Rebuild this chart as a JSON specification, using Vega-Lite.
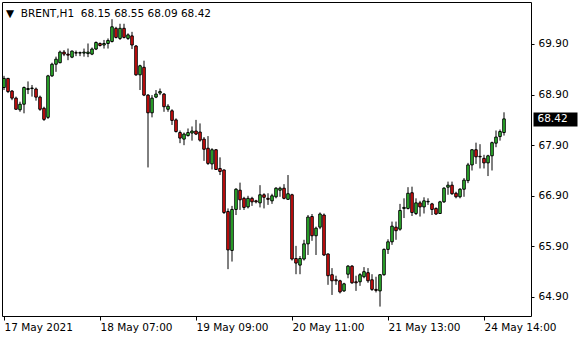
{
  "$schema": "https://vega.github.io/schema/vega-lite/v6.json",
  "autosize": "none",
  "width": 529,
  "height": 314,
  "padding": {"left": 2, "top": 2, "right": 49, "bottom": 24},
  "background": "white",
  "config": {
    "view": {"stroke": "black", "strokeWidth": 1},
    "font": "DejaVu Sans"
  },
  "title": {
    "text": "▼\u00a0 BRENT,H1\u00a0 68.15 68.55 68.09 68.42",
    "anchor": "start",
    "frame": "group",
    "orient": "top",
    "baseline": "top",
    "offset": -17,
    "dx": 4,
    "font": "DejaVu Sans",
    "fontSize": 10.5,
    "fontWeight": "normal",
    "color": "#000000"
  },
  "data": {
    "values": [
      {"i":0,"o":69.04,"h":69.27,"l":68.99,"c":69.22},
      {"i":1,"o":69.22,"h":69.23,"l":68.93,"c":68.96},
      {"i":2,"o":68.97,"h":68.99,"l":68.79,"c":68.83},
      {"i":3,"o":68.83,"h":68.86,"l":68.60,"c":68.61},
      {"i":4,"o":68.60,"h":68.76,"l":68.56,"c":68.71},
      {"i":5,"o":68.71,"h":69.06,"l":68.53,"c":69.04},
      {"i":6,"o":69.00,"h":69.16,"l":68.91,"c":69.02},
      {"i":7,"o":69.02,"h":69.09,"l":68.86,"c":69.03},
      {"i":8,"o":69.01,"h":69.04,"l":68.78,"c":68.85},
      {"i":9,"o":68.85,"h":68.88,"l":68.58,"c":68.61},
      {"i":10,"o":68.63,"h":68.66,"l":68.38,"c":68.41},
      {"i":11,"o":68.45,"h":69.29,"l":68.42,"c":69.27},
      {"i":12,"o":69.27,"h":69.53,"l":69.25,"c":69.50},
      {"i":13,"o":69.50,"h":69.65,"l":69.35,"c":69.60},
      {"i":14,"o":69.53,"h":69.77,"l":69.52,"c":69.74},
      {"i":15,"o":69.74,"h":69.78,"l":69.66,"c":69.70},
      {"i":16,"o":69.70,"h":69.81,"l":69.58,"c":69.68},
      {"i":17,"o":69.64,"h":69.77,"l":69.62,"c":69.76},
      {"i":18,"o":69.73,"h":69.77,"l":69.66,"c":69.72},
      {"i":19,"o":69.72,"h":69.75,"l":69.66,"c":69.73},
      {"i":20,"o":69.72,"h":69.81,"l":69.65,"c":69.74},
      {"i":21,"o":69.71,"h":69.91,"l":69.64,"c":69.74},
      {"i":22,"o":69.70,"h":69.83,"l":69.68,"c":69.80},
      {"i":23,"o":69.80,"h":69.95,"l":69.78,"c":69.93},
      {"i":24,"o":69.91,"h":69.93,"l":69.85,"c":69.87},
      {"i":25,"o":69.88,"h":69.98,"l":69.81,"c":69.91},
      {"i":26,"o":69.91,"h":70.01,"l":69.81,"c":69.97},
      {"i":27,"o":69.95,"h":70.39,"l":69.93,"c":70.24},
      {"i":28,"o":70.21,"h":70.24,"l":70.01,"c":70.03},
      {"i":29,"o":70.01,"h":70.30,"l":69.98,"c":70.21},
      {"i":30,"o":70.21,"h":70.30,"l":70.01,"c":70.03},
      {"i":31,"o":70.01,"h":70.11,"l":69.98,"c":70.08},
      {"i":32,"o":70.06,"h":70.14,"l":69.80,"c":69.88},
      {"i":33,"o":69.86,"h":69.88,"l":69.27,"c":69.29},
      {"i":34,"o":69.29,"h":69.49,"l":68.99,"c":69.47},
      {"i":35,"o":69.44,"h":69.57,"l":68.87,"c":68.89},
      {"i":36,"o":68.89,"h":68.91,"l":67.46,"c":68.54},
      {"i":37,"o":68.54,"h":68.89,"l":68.45,"c":68.83},
      {"i":38,"o":68.85,"h":68.99,"l":68.83,"c":68.91},
      {"i":39,"o":68.93,"h":69.02,"l":68.89,"c":68.96},
      {"i":40,"o":68.91,"h":68.93,"l":68.56,"c":68.66},
      {"i":41,"o":68.61,"h":68.71,"l":68.56,"c":68.67},
      {"i":42,"o":68.58,"h":68.61,"l":68.30,"c":68.39},
      {"i":43,"o":68.40,"h":68.43,"l":68.15,"c":68.17},
      {"i":44,"o":68.15,"h":68.19,"l":67.94,"c":68.04},
      {"i":45,"o":68.02,"h":68.15,"l":67.90,"c":68.12},
      {"i":46,"o":68.09,"h":68.23,"l":68.07,"c":68.15},
      {"i":47,"o":68.14,"h":68.27,"l":67.99,"c":68.18},
      {"i":48,"o":68.18,"h":68.40,"l":68.10,"c":68.12},
      {"i":49,"o":68.16,"h":68.33,"l":67.97,"c":68.00},
      {"i":50,"o":68.02,"h":68.06,"l":67.59,"c":67.82},
      {"i":51,"o":67.84,"h":68.08,"l":67.51,"c":67.54},
      {"i":52,"o":67.53,"h":67.84,"l":67.42,"c":67.81},
      {"i":53,"o":67.81,"h":67.82,"l":67.41,"c":67.42},
      {"i":54,"o":67.44,"h":67.66,"l":67.31,"c":67.38},
      {"i":55,"o":67.41,"h":67.42,"l":66.54,"c":66.57},
      {"i":56,"o":66.59,"h":66.65,"l":65.45,"c":65.83},
      {"i":57,"o":65.82,"h":66.70,"l":65.60,"c":66.63},
      {"i":58,"o":66.63,"h":67.05,"l":66.52,"c":67.03},
      {"i":59,"o":67.01,"h":67.16,"l":66.62,"c":66.82},
      {"i":60,"o":66.85,"h":66.88,"l":66.62,"c":66.67},
      {"i":61,"o":66.68,"h":66.90,"l":66.65,"c":66.85},
      {"i":62,"o":66.85,"h":66.88,"l":66.70,"c":66.78},
      {"i":63,"o":66.80,"h":66.82,"l":66.75,"c":66.78},
      {"i":64,"o":66.76,"h":67.11,"l":66.67,"c":66.92},
      {"i":65,"o":66.92,"h":66.95,"l":66.65,"c":66.87},
      {"i":66,"o":66.85,"h":66.95,"l":66.72,"c":66.83},
      {"i":67,"o":66.80,"h":66.94,"l":66.74,"c":66.90},
      {"i":68,"o":66.88,"h":67.07,"l":66.85,"c":67.05},
      {"i":69,"o":67.01,"h":67.08,"l":66.88,"c":67.05},
      {"i":70,"o":67.05,"h":67.13,"l":66.83,"c":66.85},
      {"i":71,"o":66.83,"h":67.31,"l":66.82,"c":66.94},
      {"i":72,"o":66.92,"h":66.94,"l":65.62,"c":65.65},
      {"i":73,"o":65.66,"h":65.91,"l":65.35,"c":65.57},
      {"i":74,"o":65.53,"h":65.71,"l":65.35,"c":65.66},
      {"i":75,"o":65.65,"h":66.03,"l":65.62,"c":65.95},
      {"i":76,"o":65.95,"h":66.52,"l":65.73,"c":66.48},
      {"i":77,"o":66.49,"h":66.54,"l":66.01,"c":66.11},
      {"i":78,"o":66.11,"h":66.29,"l":65.73,"c":66.26},
      {"i":79,"o":66.28,"h":66.57,"l":66.24,"c":66.54},
      {"i":80,"o":66.52,"h":66.55,"l":65.71,"c":65.73},
      {"i":81,"o":65.75,"h":65.76,"l":65.14,"c":65.32},
      {"i":82,"o":65.34,"h":65.47,"l":64.94,"c":65.22},
      {"i":83,"o":65.24,"h":65.32,"l":65.14,"c":65.22},
      {"i":84,"o":65.22,"h":65.24,"l":64.97,"c":65.00},
      {"i":85,"o":65.02,"h":65.18,"l":65.00,"c":65.16},
      {"i":86,"o":65.35,"h":65.53,"l":65.27,"c":65.51},
      {"i":87,"o":65.51,"h":65.53,"l":65.16,"c":65.18},
      {"i":88,"o":65.20,"h":65.32,"l":65.02,"c":65.18},
      {"i":89,"o":65.20,"h":65.37,"l":65.12,"c":65.34},
      {"i":90,"o":65.30,"h":65.49,"l":65.27,"c":65.40},
      {"i":91,"o":65.38,"h":65.47,"l":65.18,"c":65.22},
      {"i":92,"o":65.24,"h":65.35,"l":65.02,"c":65.05},
      {"i":93,"o":65.05,"h":65.30,"l":64.99,"c":65.03},
      {"i":94,"o":65.02,"h":65.35,"l":64.71,"c":65.34},
      {"i":95,"o":65.34,"h":65.86,"l":65.32,"c":65.84},
      {"i":96,"o":65.84,"h":66.04,"l":65.75,"c":65.99},
      {"i":97,"o":65.99,"h":66.39,"l":65.93,"c":66.30},
      {"i":98,"o":66.28,"h":66.39,"l":66.03,"c":66.21},
      {"i":99,"o":66.24,"h":66.74,"l":66.21,"c":66.61},
      {"i":100,"o":66.65,"h":66.85,"l":66.46,"c":66.67},
      {"i":101,"o":66.65,"h":67.07,"l":66.63,"c":66.95},
      {"i":102,"o":66.96,"h":67.08,"l":66.50,"c":66.57},
      {"i":103,"o":66.55,"h":66.85,"l":66.52,"c":66.76},
      {"i":104,"o":66.76,"h":66.80,"l":66.49,"c":66.68},
      {"i":105,"o":66.68,"h":66.87,"l":66.55,"c":66.80},
      {"i":106,"o":66.78,"h":66.85,"l":66.72,"c":66.79},
      {"i":107,"o":66.74,"h":66.76,"l":66.52,"c":66.63},
      {"i":108,"o":66.65,"h":66.67,"l":66.52,"c":66.54},
      {"i":109,"o":66.55,"h":66.80,"l":66.54,"c":66.78},
      {"i":110,"o":66.78,"h":67.07,"l":66.76,"c":67.05},
      {"i":111,"o":67.07,"h":67.18,"l":66.92,"c":67.11},
      {"i":112,"o":67.11,"h":67.18,"l":66.92,"c":66.94},
      {"i":113,"o":66.95,"h":66.98,"l":66.85,"c":66.88},
      {"i":114,"o":66.88,"h":67.05,"l":66.85,"c":67.03},
      {"i":115,"o":67.03,"h":67.25,"l":66.88,"c":67.21},
      {"i":116,"o":67.20,"h":67.55,"l":67.15,"c":67.51},
      {"i":117,"o":67.51,"h":67.82,"l":67.40,"c":67.81},
      {"i":118,"o":67.81,"h":67.95,"l":67.53,"c":67.67},
      {"i":119,"o":67.68,"h":67.92,"l":67.44,"c":67.67},
      {"i":120,"o":67.64,"h":67.71,"l":67.44,"c":67.55},
      {"i":121,"o":67.55,"h":67.71,"l":67.29,"c":67.69},
      {"i":122,"o":67.69,"h":67.97,"l":67.40,"c":67.95},
      {"i":123,"o":67.94,"h":68.19,"l":67.86,"c":68.06},
      {"i":124,"o":68.07,"h":68.21,"l":67.99,"c":68.17},
      {"i":125,"o":68.15,"h":68.55,"l":68.09,"c":68.42}
    ]
  },
  "resolve": {"axis": {"x": "independent", "y": "independent"}},
  "layer": [
    {
      "mark": {"type": "rule", "color": "#000000", "strokeWidth": 1},
      "encoding": {
        "x": {
          "field": "i", "type": "quantitative",
          "scale": {"domain": [-0.5, 131.75], "nice": false, "zero": false, "padding": 0},
          "axis": {
            "values": [0, 24, 48, 72, 96, 120],
            "labelExpr": "datum.value == 0 ? '17 May 2021' : datum.value == 24 ? '18 May 07:00' : datum.value == 48 ? '19 May 09:00' : datum.value == 72 ? '20 May 11:00' : datum.value == 96 ? '21 May 13:00' : '24 May 14:00'",
            "title": null,
            "grid": false,
            "domain": false,
            "tickSize": 4,
            "tickColor": "#000000",
            "labelAlign": "left",
            "labelPadding": 2,
            "labelFont": "DejaVu Sans",
            "labelFontSize": 10.5,
            "labelColor": "#000000",
            "labelFlush": false,
            "labelOverlap": false
          }
        },
        "y": {
          "field": "l", "type": "quantitative",
          "scale": {"domain": [64.524, 70.73], "nice": false, "zero": false, "padding": 0},
          "axis": {
            "orient": "right",
            "values": [68.42],
            "format": ".2f",
            "title": null,
            "grid": false,
            "domain": false,
            "offset": 2,
            "tickSize": 44,
            "tickWidth": 14,
            "tickColor": "#000000",
            "labelPadding": -40,
            "labelAlign": "left",
            "labelFont": "DejaVu Sans",
            "labelFontSize": 10.5,
            "labelColor": "#ffffff"
          }
        },
        "y2": {"field": "h"}
      }
    },
    {
      "mark": {"type": "bar", "size": 2.5, "stroke": "#000000", "strokeWidth": 1},
      "encoding": {
        "x": {"field": "i", "type": "quantitative", "axis": null},
        "y": {
          "field": "o", "type": "quantitative",
          "axis": {
            "orient": "right",
            "values": [64.9, 65.9, 66.9, 67.9, 68.9, 69.9],
            "format": ".2f",
            "title": null,
            "grid": false,
            "domain": false,
            "tickSize": 3,
            "tickColor": "#000000",
            "labelPadding": 4,
            "labelAlign": "left",
            "labelFont": "DejaVu Sans",
            "labelFontSize": 10.5,
            "labelColor": "#000000"
          }
        },
        "y2": {"field": "c"},
        "fill": {
          "condition": {"test": "datum.c >= datum.o", "value": "#33cc33"},
          "value": "#ee1111"
        }
      }
    }
  ]
}
